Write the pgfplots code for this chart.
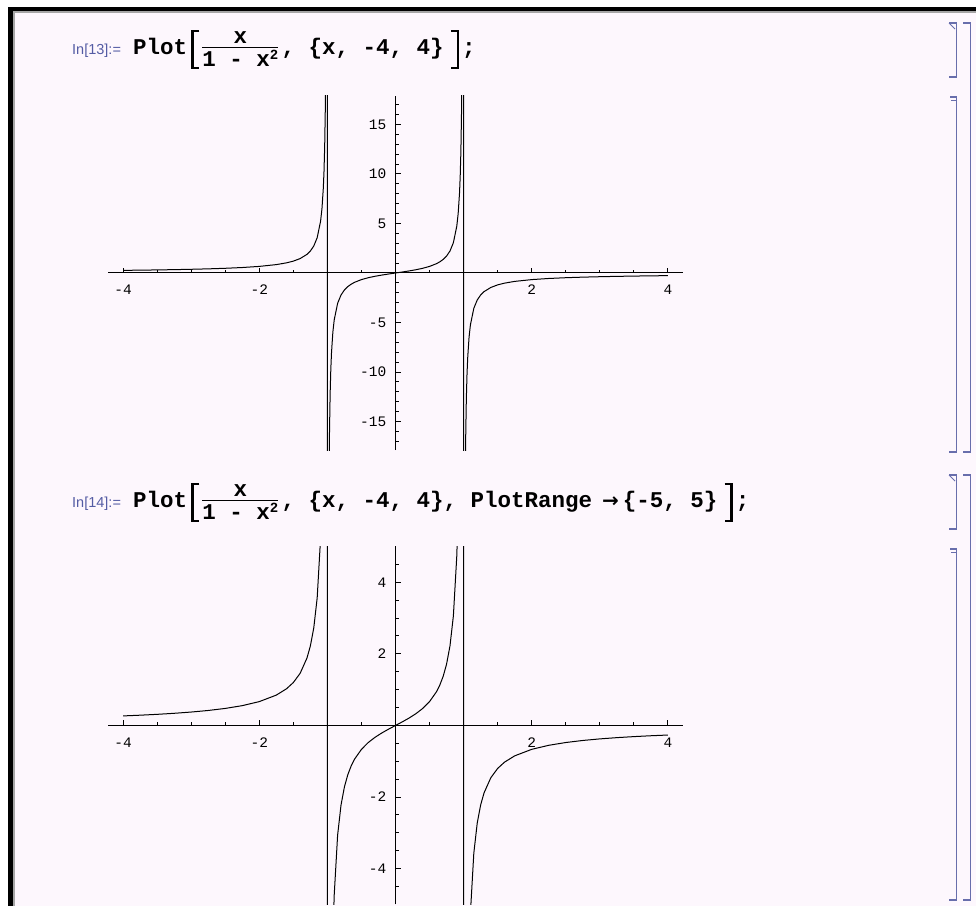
\documentclass[border=0pt]{standalone}
\usepackage{fontspec}
\setmainfont{Liberation Sans}
\newfontfamily\codefont{Liberation Mono}
\newfontfamily\symfont{DejaVu Sans}
\usepackage{pgfplots}
\usepackage{pgfplotstable}
\pgfplotsset{compat=1.18}

\definecolor{nbbg}{RGB}{253,247,253}
\definecolor{cellbr}{RGB}{104,110,172}
\definecolor{inlabel}{RGB}{84,92,164}

\newcommand\code{\codefont\bfseries\fontsize{22.5}{22.5}\selectfont}
\newcommand\tickf{\codefont\fontsize{14.5}{14.5}\selectfont}
\newcommand\inlabelfont{\fontsize{14.5}{14.5}\selectfont}

% samples of x/(1-x^2) on [-4,4], both sides of the poles at x=-1 and x=1
\pgfplotstableread{
x y
-4 0.2667
-3.75 0.2871
-3.5 0.3111
-3.25 0.3399
-3 0.375
-2.75 0.4190
-2.5 0.4762
-2.25 0.5538
-2 0.6667
-1.75 0.8485
-1.6 1.0256
-1.5 1.2
-1.4 1.4583
-1.3 1.8841
-1.25 2.2222
-1.2 2.7273
-1.15 3.5659
-1.1 5.2381
-1.08 6.4904
-1.06 8.5761
-1.05 10.2439
-1.04 12.7451
-1.03 16.9130
-1.02 25.2475
-1.01 50.2488
-1.005 100.2494
-0.995 -99.7494
-0.99 -49.7487
-0.98 -24.7475
-0.97 -16.4129
-0.96 -12.2449
-0.95 -9.7436
-0.94 -8.0756
-0.92 -5.9896
-0.9 -4.7368
-0.85 -3.0631
-0.8 -2.2222
-0.75 -1.7143
-0.7 -1.3725
-0.65 -1.1255
-0.6 -0.9375
-0.5 -0.6667
-0.4 -0.4762
-0.3 -0.3297
-0.2 -0.2083
-0.1 -0.1010
0 0
0.1 0.1010
0.2 0.2083
0.3 0.3297
0.4 0.4762
0.5 0.6667
0.6 0.9375
0.65 1.1255
0.7 1.3725
0.75 1.7143
0.8 2.2222
0.85 3.0631
0.9 4.7368
0.92 5.9896
0.94 8.0756
0.95 9.7436
0.96 12.2449
0.97 16.4129
0.98 24.7475
0.99 49.7487
0.995 99.7494
1.005 -100.2494
1.01 -50.2488
1.02 -25.2475
1.03 -16.9130
1.04 -12.7451
1.05 -10.2439
1.06 -8.5761
1.08 -6.4904
1.1 -5.2381
1.15 -3.5659
1.2 -2.7273
1.25 -2.2222
1.3 -1.8841
1.4 -1.4583
1.5 -1.2
1.6 -1.0256
1.75 -0.8485
2 -0.6667
2.25 -0.5538
2.5 -0.4762
2.75 -0.4190
3 -0.375
3.25 -0.3399
3.5 -0.3111
3.75 -0.2871
4 -0.2667
}\curvedata

\pgfplotsset{
  nbplot/.style={
    anchor=center,
    axis lines=middle,
    axis line style={line width=1pt,-},
    every inner x axis line/.append style={-},
    every inner y axis line/.append style={-},
    xmin=-4.22, xmax=4.22,
    tick align=inside,
    major tick length=5pt, minor tick length=3pt,
    every tick/.style={black,line width=1pt},
    xtick={-4,-2,2,4}, xticklabels={-4,-2,2,4},
    minor xtick={-3.5,-3,-2.5,-1.5,-1,-0.5,0.5,1,1.5,2.5,3,3.5},
    xticklabel style={font=\tickf, anchor=north, inner sep=0pt, yshift=-12pt},
    yticklabel style={font=\tickf, anchor=east, inner sep=0pt, xshift=-9pt},
    clip=true,
  },
  nbcurve/.style={black, line width=1pt, no marks, sharp plot},
}

% one input line: label, Plot[ fraction , rest ];  baseline at #1
\newcommand\inputline[3]{%
  \node[anchor=base west, inner sep=0pt, text=inlabel, font=\inlabelfont] at (72pt,#1) {In[#2]:=};
  \node[anchor=base west, inner sep=0pt, font=\code] (pl) at (133pt,#1) {Plot};
  \draw[line width=2.4pt] ([xshift=12pt,yshift=23pt]pl.base east) -- ++(-7pt,0) -- ++(0,-37pt) -- ++(7pt,0);
  \node[anchor=base, inner sep=0pt, font=\code] at ([xshift=53pt,yshift=11pt]pl.base east) {x};
  \draw[line width=1.7pt] ([xshift=15pt,yshift=6.5pt]pl.base east) -- ++(76pt,0);
  \node[anchor=base, inner sep=0pt, font=\code] at ([xshift=53pt,yshift=-12pt]pl.base east) {1 - x\raisebox{7pt}{\fontsize{14}{14}\selectfont 2}};
  \node[anchor=base west, inner sep=0pt, font=\code] (rest) at ([xshift=94pt]pl.base east) {#3};
  \draw[line width=2.4pt] ([xshift=7pt,yshift=23pt]rest.base east) -- ++(7pt,0) -- ++(0,-37pt) -- ++(-7pt,0);
  \node[anchor=base west, inner sep=0pt, font=\code] at ([xshift=18pt]rest.base east) {;};
}

\begin{document}
\begin{tikzpicture}
\useasboundingbox (0pt,0pt) rectangle (976pt,-906pt);
\clip (0pt,0pt) rectangle (976pt,-906pt);
\fill[white] (0pt,0pt) rectangle (976pt,-906pt);
\fill[nbbg] (8pt,-7pt) rectangle (976pt,-906pt);
% window frame
\fill[black] (8pt,-7pt) rectangle (976pt,-11pt);
\fill[black] (8pt,-7pt) rectangle (13pt,-906pt);
\fill[black!35] (13pt,-11pt) rectangle (15pt,-906pt);
\fill[black!35] (13pt,-11pt) rectangle (976pt,-12.5pt);

% ---- In[13]
\inputline{-54pt}{13}{, \{x, -4, 4\}}

% ---- Out[13]: automatic plot range
\begin{axis}[nbplot, at={(395.5pt,-273pt)},
  x=68.1pt, y=9.9pt, ymin=-17.9, ymax=17.9,
  ytick={-15,-10,-5,5,10,15}, yticklabels={-15,-10,-5,5,10,15},
  minor ytick={-17,-16,-14,-13,-12,-11,-9,-8,-7,-6,-4,-3,-2,-1,1,2,3,4,6,7,8,9,11,12,13,14,16,17}]
\addplot[nbcurve] table {\curvedata};
\end{axis}

% ---- In[14]
\inputline{-507pt}{14}{, \{x, -4, 4\}, PlotRange\hspace{10pt}{\symfont\fontsize{20}{20}\selectfont →}\hspace{4pt}\{-5, 5\}}

% ---- Out[14]: PlotRange -> {-5,5}
\begin{axis}[nbplot, at={(395.5pt,-725.5pt)},
  x=68.1pt, y=35.8pt, ymin=-5, ymax=5,
  ytick={-4,-2,2,4}, yticklabels={-4,-2,2,4},
  minor ytick={-4.5,-3.5,-3,-2.5,-1.5,-1,-0.5,0.5,1,1.5,2.5,3,3.5,4.5}]
\addplot[nbcurve] table {\curvedata};
\end{axis}

% ---- cell brackets
\begin{scope}[cellbr, line width=1.5pt]
% group 1
\draw (963pt,-23pt) -- (970.5pt,-23pt) -- (970.5pt,-452pt) -- (963pt,-452pt);
\draw (949pt,-23pt) -- (956.5pt,-23pt) -- (956.5pt,-77pt) -- (949pt,-77pt);
\draw[line width=1pt] (949pt,-23pt) -- (955pt,-29pt);
\draw (950pt,-97pt) -- (956.5pt,-97pt) -- (956.5pt,-452pt) -- (949pt,-452pt);
\draw[line width=1pt] (951pt,-100.5pt) -- (956pt,-100.5pt);
% group 2
\draw (963pt,-475pt) -- (970.5pt,-475pt) -- (970.5pt,-900pt) -- (963pt,-900pt);
\draw (949pt,-475pt) -- (956.5pt,-475pt) -- (956.5pt,-529pt) -- (949pt,-529pt);
\draw[line width=1pt] (949pt,-475pt) -- (955pt,-481pt);
\draw (950pt,-549pt) -- (956.5pt,-549pt) -- (956.5pt,-900pt) -- (949pt,-900pt);
\draw[line width=1pt] (951pt,-552.5pt) -- (956pt,-552.5pt);
\end{scope}
\end{tikzpicture}
\end{document}
